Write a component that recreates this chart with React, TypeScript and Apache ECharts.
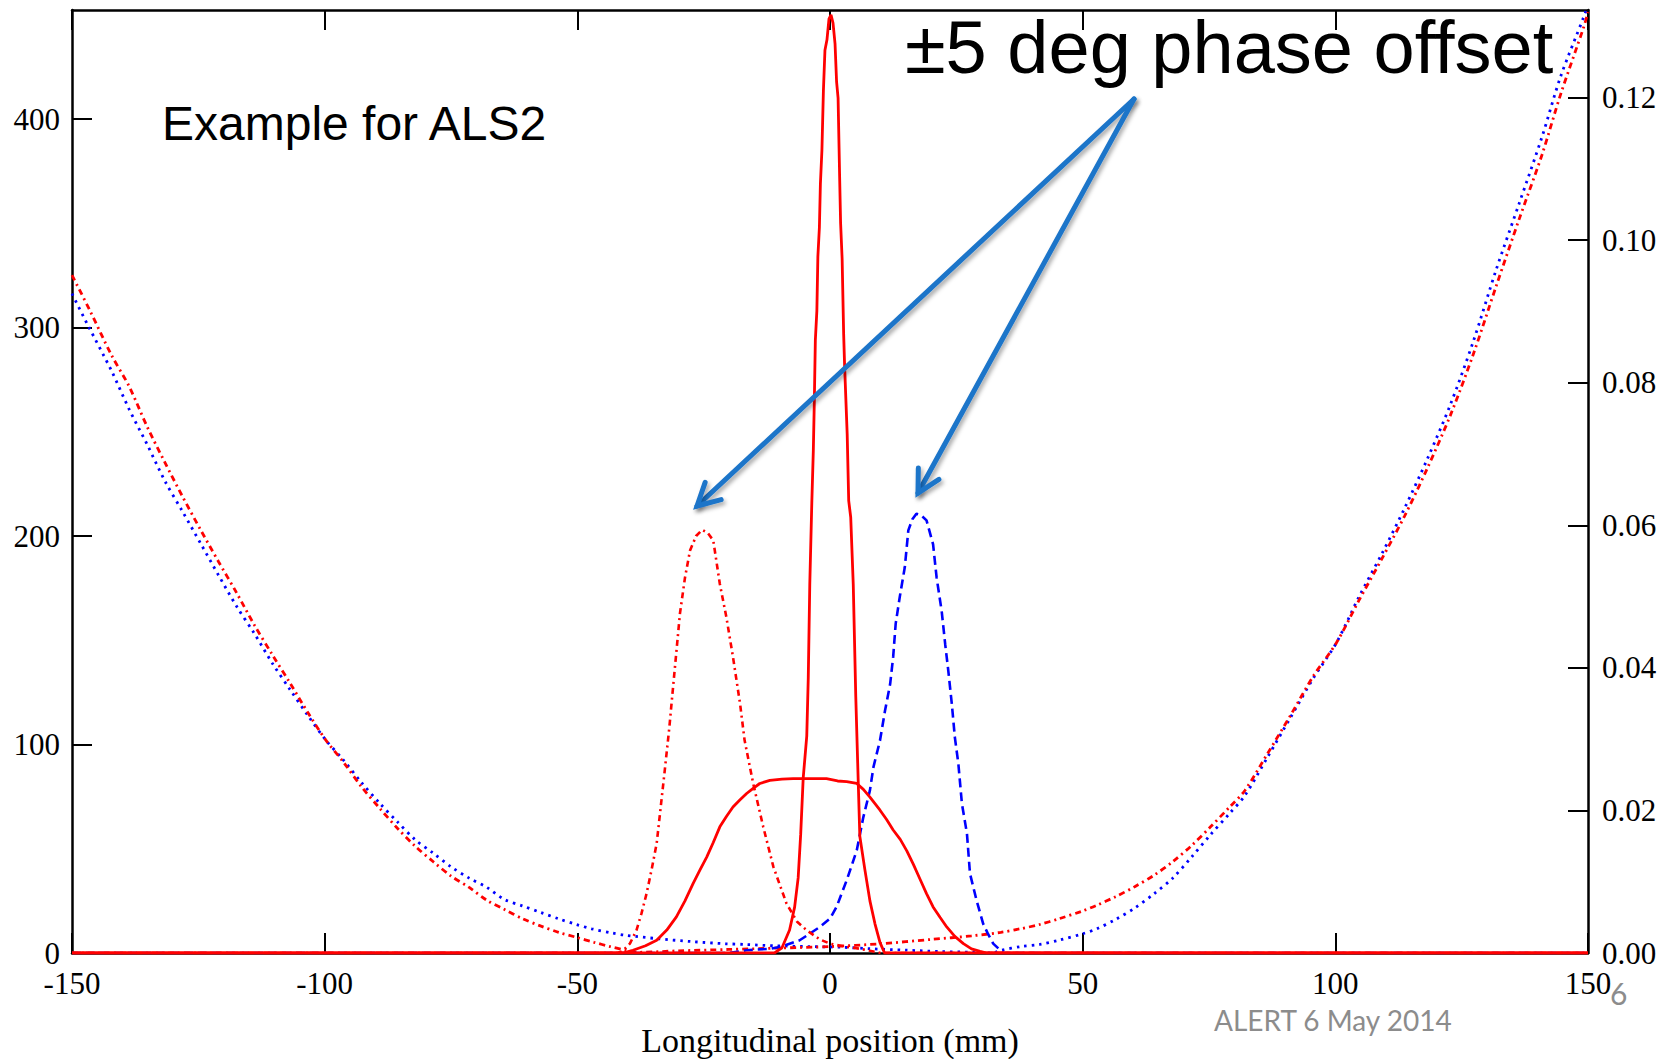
import React, { useEffect, useRef } from "react";
import * as echarts from "echarts";

// Axis ticks
const xTicks = [-150, -100, -50, 0, 50, 100, 150];
const leftTicks = [0, 100, 200, 300, 400];
const rightTicks = [0, 0.02, 0.04, 0.06, 0.08, 0.1, 0.12];

// Narrow on-phase bunch (left axis), solid red
const spikePos = [-150, -11.0, -9.5, -8.0, -7.0, -6.3, -5.8, -5.3, -4.6, -4.3, -4.0, -3.6, -3.3, -3.1, -2.9, -2.6, -2.4, -2.1, -1.9, -1.6, -1.3, -1.0, -0.6, -0.2, 0.2, 0.6, 1.0, 1.3, 1.6, 1.9, 2.1, 2.4, 2.7, 2.9, 3.4, 3.7, 4.1, 4.6, 5.1, 5.6, 5.9, 6.9, 7.9, 8.9, 9.9, 10.8, 150];
const spikeVal = [0, 0, 2.5, 11, 22, 36, 57, 84, 104, 132, 177, 216, 241, 265, 294, 308, 334, 348, 369, 385, 414, 433, 438, 448, 450, 446, 436, 418, 410, 373, 350, 333, 297, 281, 249, 217, 209, 177, 123, 81, 56, 40, 25, 14, 5, 0, 0];

// Wide flat-top bunch (left axis), solid red
const plateauPos = [-150, -41, -39.0, -36.5, -34.3, -32.3, -30.4, -28.7, -27.1, -25.7, -24.4, -23.1, -21.8, -20.5, -19.2, -17.8, -16.5, -15.2, -13.9, -11.9, -9.5, -7.3, -4, -0.7, 1.5, 3.3, 5.3, 6.6, 7.9, 9.9, 11.2, 12.5, 13.9, 15.2, 16.5, 17.8, 19.1, 20.4, 21.8, 23.1, 24.7, 26.4, 28.0, 29.7, 31, 150];
const plateauVal = [0, 0, 1.3, 3.5, 6.1, 11, 17.3, 25, 33.3, 40, 46, 53, 60.5, 65.5, 70, 73.5, 76.5, 79, 81.3, 82.8, 83.4, 83.6, 83.6, 83.6, 82.5, 82.2, 81.3, 78.5, 74.8, 68.5, 64, 59, 54.5, 49, 42.5, 35.5, 28.5, 22.1, 17, 12.5, 8, 4.5, 2, 0.8, 0, 0];

// -5 deg bunch (left axis), red dash-dot
const minusPos = [-150, -42, -41.0, -39.6, -38.3, -37.3, -36.3, -35.3, -34.3, -33.5, -32.7, -31.8, -31.0, -30.3, -29.7, -28.7, -27.7, -26.5, -25.3, -24.2, -23.1, -21.8, -20.5, -19.2, -17.8, -16.9, -15.2, -13.2, -11.2, -8.6, -6.5, -4.6, -2, 0, 3, 6, 10, 150];
const minusVal = [0, 0, 1, 4.5, 10.9, 19, 28.5, 40, 52.5, 70, 87.6, 108, 129, 147, 162.7, 180, 193, 200, 203, 201.5, 197.9, 177, 161, 142, 119.6, 102, 81.3, 60.4, 41.3, 23.7, 15, 10.9, 6.5, 4.5, 3, 2, 0, 0];

// +5 deg bunch (left axis), blue dashed
const plusPos = [-150, -20, -16.5, -12, -9.9, -6.0, -2.0, 0, 1.3, 2.3, 3.3, 4.3, 5.3, 6.6, 7.9, 8.6, 9.9, 10.9, 11.9, 12.5, 13.0, 13.8, 14.8, 15.5, 16.3, 17.1, 18.0, 19.1, 20.4, 21.1, 22.1, 22.8, 23.4, 24.1, 24.7, 25.4, 26.1, 27.1, 27.7, 29.0, 30.3, 31.3, 32.3, 34.3, 150];
const plusVal = [0, 0, 1.3, 2, 2.9, 6.1, 12.5, 16.5, 22.1, 28.5, 34.9, 42, 49.3, 65.2, 78, 89.2, 102, 116.4, 129, 142, 158, 170.7, 185, 202.7, 208, 210.7, 210, 207.5, 196, 180, 164, 148, 135.6, 119.6, 103.6, 90.8, 71.7, 57.3, 38.1, 25.3, 14.1, 9, 4.5, 0, 0];

// Energy deviation curves (right axis)
const blueCurvePos = [-150, -146.8, -142.2, -138.7, -135.1, -131.6, -128.1, -124.5, -121.0, -117.4, -113.9, -110.4, -106.8, -103.3, -99.8, -96.2, -92.7, -89.1, -85.6, -82.1, -78.5, -75.0, -71.4, -67.9, -64.4, -60.8, -57.3, -53.7, -50.2, -47.2, -43.1, -40.6, -34.0, -27.3, -20.7, -16.7, -10.7, -4.1, 2.5, 8, 15, 22, 28, 32, 34.0, 37.7, 41.5, 45.3, 50, 52.8, 56.5, 60.3, 64.1, 67.8, 71.6, 75.3, 79.1, 82.1, 86.6, 91.1, 95.6, 100.2, 104.7, 109.2, 113.7, 118.2, 122.8, 127.3, 131.8, 136.4, 140.9, 144.6, 149.2, 150];
const blueCurveVal = [0.0925, 0.0880, 0.0817, 0.0763, 0.0713, 0.0662, 0.0619, 0.0574, 0.0530, 0.0486, 0.0448, 0.0407, 0.0369, 0.0333, 0.0299, 0.0270, 0.0239, 0.0210, 0.0184, 0.0159, 0.0140, 0.0121, 0.0105, 0.0092, 0.0075, 0.0066, 0.0057, 0.0048, 0.0040, 0.0034, 0.0028, 0.0025, 0.0020, 0.0016, 0.0013, 0.0012, 0.0010, 0.0009, 0.0008, 0.0006, 0.0004, 0.0002, 0.0001, 0.0, 0.0004, 0.0009, 0.0012, 0.0018, 0.0027, 0.0034, 0.0047, 0.0063, 0.0083, 0.0105, 0.0135, 0.0166, 0.0196, 0.0221, 0.0275, 0.0330, 0.0385, 0.0435, 0.0500, 0.0560, 0.0624, 0.0693, 0.0770, 0.0858, 0.0958, 0.1052, 0.1145, 0.1230, 0.1314, 0.1330];

const redCurvePos = [-150, -146.5, -142.2, -138.7, -135.1, -131.6, -128.1, -124.5, -121.0, -117.4, -113.9, -110.4, -106.8, -103.3, -99.8, -96.2, -92.7, -89.1, -85.6, -82.1, -78.5, -75.0, -71.4, -67.9, -64.4, -60.8, -57.3, -53.7, -50.2, -46.7, -43.5, -40.5, -38.0, -30, -20, -10, 0, 10, 20, 28, 33.8, 37.7, 41.5, 45.3, 50, 52.8, 56.5, 60.3, 64.1, 67.8, 71.6, 75.3, 79.1, 82.1, 86.6, 91.1, 95.6, 100.2, 104.7, 109.2, 113.7, 118.2, 122.8, 127.3, 131.8, 136.4, 140.9, 144.6, 149.2, 150];
const redCurveVal = [0.0951, 0.0902, 0.0839, 0.0795, 0.0738, 0.0688, 0.0640, 0.0593, 0.0549, 0.0505, 0.0460, 0.0419, 0.0378, 0.0337, 0.0299, 0.0267, 0.0233, 0.0203, 0.0175, 0.0150, 0.0128, 0.0108, 0.0092, 0.0074, 0.0061, 0.0048, 0.0038, 0.0029, 0.0022, 0.0015, 0.0009, 0.0004, 0.0001, 0.0003, 0.0005, 0.0007, 0.0009, 0.0013, 0.0019, 0.0024, 0.0029, 0.0034, 0.0040, 0.0048, 0.0059, 0.0067, 0.0079, 0.0093, 0.0109, 0.0128, 0.0151, 0.0177, 0.0205, 0.0228, 0.0280, 0.0333, 0.0388, 0.0435, 0.0495, 0.0553, 0.0613, 0.0680, 0.0755, 0.0840, 0.0935, 0.1030, 0.1120, 0.1205, 0.1300, 0.1320];

const RED = "#ff0000";
const BLUE = "#0000ff";
const ARROW = "#1b74c9";
const SERIF = "'Liberation Serif', 'Times New Roman', serif";
const SANS = "'Liberation Sans', Arial, sans-serif";
const FOOT = "Lato, 'Open Sans', sans-serif";

const zip = (xs: number[], ys: number[]) => xs.map((x, i) => [x, ys[i]]);

// Callout arrows from the title down to the two offset bunches
const arrowStart = [1134, 99];
const arrowTips = [
  [697, 506],
  [918, 493],
];

function arrowGraphics() {
  const out: any[] = [];
  const shadow = {
    shadowBlur: 4,
    shadowOffsetX: 2,
    shadowOffsetY: 3,
    shadowColor: "rgba(0,0,0,0.35)",
  };
  arrowTips.forEach((tip) => {
    const dx = tip[0] - arrowStart[0];
    const dy = tip[1] - arrowStart[1];
    const len = Math.hypot(dx, dy);
    const bx = -dx / len;
    const by = -dy / len;
    const head = 25;
    const a = (28 * Math.PI) / 180;
    const w1 = [
      tip[0] + head * (bx * Math.cos(a) - by * Math.sin(a)),
      tip[1] + head * (bx * Math.sin(a) + by * Math.cos(a)),
    ];
    const w2 = [
      tip[0] + head * (bx * Math.cos(-a) - by * Math.sin(-a)),
      tip[1] + head * (bx * Math.sin(-a) + by * Math.cos(-a)),
    ];
    out.push({
      type: "line",
      z: 100,
      shape: { x1: arrowStart[0], y1: arrowStart[1], x2: tip[0], y2: tip[1] },
      style: { stroke: ARROW, lineWidth: 5, lineCap: "round", ...shadow },
    });
    out.push({
      type: "polyline",
      z: 100,
      shape: { points: [w1, tip, w2] },
      style: { stroke: ARROW, fill: null, lineWidth: 5, lineCap: "round", lineJoin: "miter", ...shadow },
    });
  });
  return out;
}

export default function App() {
  const ref = useRef<HTMLDivElement>(null);

  useEffect(() => {
    if (!ref.current) return;
    const chart = echarts.init(ref.current, undefined, { renderer: "svg" });

    const axisLine = { show: true, onZero: false, lineStyle: { color: "#000", width: 2.5 } };
    const tick = { show: true, inside: true, length: 20, lineStyle: { color: "#000", width: 2 } };

    const lineSeries = (name: string, xs: number[], ys: number[], lineStyle: any, extra: any = {}) => ({
      type: "line",
      name,
      data: zip(xs, ys),
      showSymbol: false,
      symbol: "none",
      lineStyle,
      ...extra,
    });

    chart.setOption({
      animation: false,
      backgroundColor: "#fff",
      grid: {
        left: 72,
        right: 86,
        top: 10,
        bottom: 106,
        containLabel: false,
        outerBoundsMode: "none",
      },
      xAxis: [
        {
          type: "value",
          position: "bottom",
          min: xTicks[0],
          max: xTicks[xTicks.length - 1],
          interval: 50,
          axisLine,
          axisTick: tick,
          splitLine: { show: false },
          axisLabel: {
            color: "#000",
            fontFamily: SERIF,
            fontSize: 31,
            margin: 15,
          },
          name: "Longitudinal position (mm)",
          nameLocation: "middle",
          nameGap: 70,
          nameTextStyle: { color: "#000", fontFamily: SERIF, fontSize: 34 },
        },
        {
          type: "value",
          position: "top",
          min: xTicks[0],
          max: xTicks[xTicks.length - 1],
          interval: 50,
          axisLine,
          axisTick: tick,
          splitLine: { show: false },
          axisLabel: { show: false },
        },
      ],
      yAxis: [
        {
          type: "value",
          position: "left",
          min: 0,
          max: 452.3,
          axisLine,
          axisTick: { ...tick, customValues: leftTicks },
          splitLine: { show: false },
          axisLabel: {
            customValues: leftTicks,
            color: "#000",
            fontFamily: SERIF,
            fontSize: 31,
            margin: 12,
          },
        },
        {
          type: "value",
          position: "right",
          min: 0,
          max: 0.1323,
          axisLine,
          axisTick: { ...tick, customValues: rightTicks },
          splitLine: { show: false },
          axisLabel: {
            customValues: rightTicks,
            color: "#000",
            fontFamily: SERIF,
            fontSize: 31,
            margin: 14,
            formatter: (v: number) => v.toFixed(2),
          },
        },
      ],
      series: [
        lineSeries("dE blue", blueCurvePos, blueCurveVal, { color: BLUE, width: 2.8, type: [2.5, 5] }, { yAxisIndex: 1, smooth: 0.3, z: 2 }),
        lineSeries("dE red", redCurvePos, redCurveVal, { color: RED, width: 2.8, type: [6, 4, 2, 4] }, { yAxisIndex: 1, smooth: 0.3, z: 2 }),
        lineSeries("+5 deg", plusPos, plusVal, { color: BLUE, width: 2.6, type: [9, 5] }, { z: 3 }),
        lineSeries("-5 deg", minusPos, minusVal, { color: RED, width: 2.6, type: [6, 4, 2, 4] }, { z: 3 }),
        lineSeries("wide", plateauPos, plateauVal, { color: RED, width: 2.8 }, { z: 4 }),
        lineSeries("on phase", spikePos, spikeVal, { color: RED, width: 2.8 }, { z: 5 }),
      ],
      graphic: [
        {
          type: "text",
          z: 100,
          left: 162,
          top: 99,
          style: {
            text: "Example for ALS2",
            fill: "#000",
            font: `48px ${SANS}`,
          },
        },
        {
          type: "text",
          z: 100,
          left: 905,
          top: 10,
          style: {
            text: "±5 deg phase offset",
            fill: "#000",
            font: `74px ${SANS}`,
          },
        },
        ...arrowGraphics(),
        {
          type: "text",
          z: 100,
          left: 1214,
          top: 1006,
          style: {
            text: "ALERT 6 May 2014",
            fill: "#8c8c8c",
            font: `28px ${FOOT}`,
          },
        },
        {
          type: "text",
          z: 100,
          left: 1610,
          top: 978,
          style: {
            text: "6",
            fill: "#8c8c8c",
            font: `30px ${FOOT}`,
          },
        },
      ],
    });

    return () => chart.dispose();
  }, []);

  return (
    <div
      ref={ref}
      style={{
        position: "fixed",
        left: 0,
        top: 0,
        width: "1674px",
        height: "1059px",
        background: "#fff",
      }}
    />
  );
}
